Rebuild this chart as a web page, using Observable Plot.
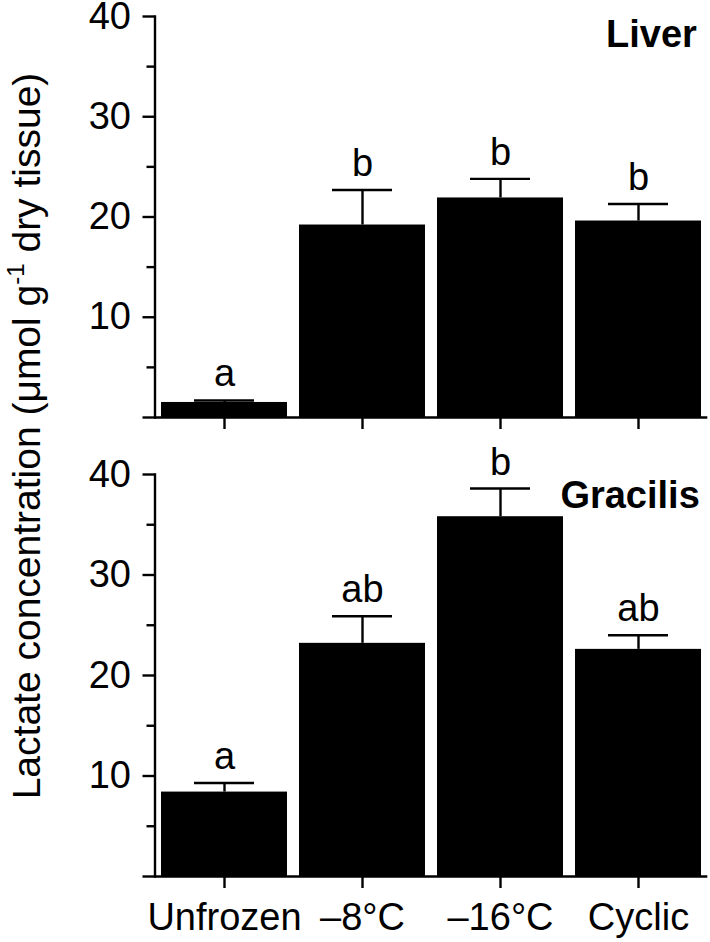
<!DOCTYPE html>
<html><head><meta charset="utf-8">
<script src="https://cdn.jsdelivr.net/npm/d3@7"></script>
<script src="https://cdn.jsdelivr.net/npm/@observablehq/plot@0.6"></script>
<style>
body{margin:0;background:#fff;}
#wrap{position:relative;width:710px;height:942px;font-family:"Liberation Sans",Arial,sans-serif;color:#000;}
#top,#bottom{position:absolute;left:0;}
#top{top:0}
#bottom{top:440px}
#ylab{position:absolute;left:26px;top:436px;transform:translate(-50%,-50%) rotate(-90deg);white-space:nowrap;font-size:39px;line-height:1;}
#ylab sup{font-size:24px;vertical-align:0;position:relative;top:-16px;}
</style></head>
<body><div id="wrap"><div id="top"></div><div id="bottom"></div><div id="ylab">Lactate concentration (μmol g<sup>-1</sup> dry tissue)</div></div>
<script>
const categories = ["Unfrozen", "–8°C", "–16°C", "Cyclic"];
const liverMean = [1.5, 19.2, 21.9, 19.6];
const liverSE = [0.2, 3.5, 1.9, 1.7];
const liverLetters = ["a", "b", "b", "b"];
const gracilisMean = [8.4, 23.2, 35.8, 22.6];
const gracilisSE = [0.9, 2.7, 2.8, 1.4];
const gracilisLetters = ["a", "ab", "b", "ab"];
const majorTicks = [0, 10, 20, 30, 40];
const minorTicks = [5, 15, 25, 35];
const FONT = '"Liberation Sans", Arial, sans-serif';

function panel(means, ses, letters, tissue, o) {
  const data = categories.map((c, i) => ({cat: c, mean: means[i], top: means[i] + ses[i], letter: letters[i]}));
  return Plot.plot({
    width: 710, height: o.height,
    marginLeft: 154.5, marginRight: 2.7, marginTop: o.marginTop, marginBottom: o.marginBottom,
    style: {fontFamily: FONT, fontSize: "38px", color: "#000", background: "transparent", overflow: "visible"},
    x: {domain: categories, paddingInner: 0.085, paddingOuter: 0.0425, align: 0.5},
    y: {domain: [0, 40]},
    marks: [
      Plot.barY(data, {x: "cat", y: "mean", fill: "#000"}),
      Plot.ruleX(data, {x: "cat", y1: "mean", y2: "top", stroke: "#000", strokeWidth: 2.4}),
      Plot.tickY(data, {x: "cat", y: "top", stroke: "#000", strokeWidth: 2.4, insetLeft: 33, insetRight: 33}),
      Plot.text(data, {x: "cat", y: "top", text: "letter", dy: -14, lineAnchor: "bottom", fontSize: 38}),
      Plot.text([tissue], {frameAnchor: "top-right", text: d => d, fontWeight: "bold", fontSize: 38, lineAnchor: "top", dx: o.titleDx, dy: o.titleDy}),
      Plot.axisY({ticks: majorTicks, tickSize: 12, tickPadding: 12, tickFormat: d => d === 0 ? "" : String(d), strokeWidth: 2.4, label: null, fontSize: 38}),
      Plot.axisY({ticks: minorTicks, tickSize: 8, tickFormat: () => "", strokeWidth: 2.4, label: null}),
      Plot.axisX({tickSize: 12, tickPadding: 15, tickFormat: o.labels ? (d => d) : (() => ""), strokeWidth: 2.4, label: null, fontSize: 38}),
      Plot.frame({anchor: "left", stroke: "#000", strokeWidth: 2.4}),
      Plot.ruleY([0], {stroke: "#000", strokeWidth: 2.4})
    ]
  });
}

document.getElementById("top").append(panel(liverMean, liverSE, liverLetters, "Liver",
  {height: 440, marginTop: 16, marginBottom: 23, labels: false, titleDx: -11, titleDy: 4}));
document.getElementById("bottom").append(panel(gracilisMean, gracilisSE, gracilisLetters, "Gracilis",
  {height: 502, marginTop: 34, marginBottom: 66, labels: true, titleDx: -8, titleDy: 7}));
</script>
</body></html>
